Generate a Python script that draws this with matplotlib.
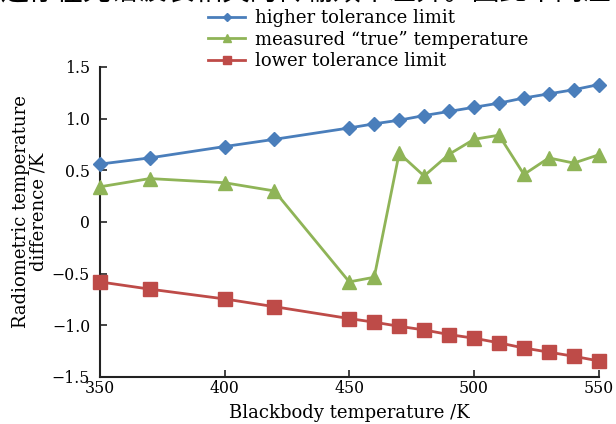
import matplotlib
matplotlib.use("Agg")
import matplotlib.pyplot as plt

plt.rcParams['font.family'] = ['DejaVu Serif']

# blackbody temperature (K)
temps = [350, 370, 400, 420, 450, 460, 470, 480, 490, 500, 510, 520, 530, 540, 550]

# radiometric temperature difference (K)
higher_limit = [0.56, 0.62, 0.73, 0.80, 0.91, 0.95, 0.985, 1.03, 1.07, 1.11,
                1.15, 1.20, 1.24, 1.28, 1.33]
measured = [0.34, 0.42, 0.38, 0.30, -0.58, -0.535, 0.665, 0.445, 0.655, 0.80,
            0.84, 0.46, 0.62, 0.57, 0.65]
lower_limit = [-0.58, -0.65, -0.745, -0.82, -0.935, -0.97, -1.01, -1.045, -1.09,
               -1.125, -1.17, -1.22, -1.26, -1.30, -1.345]

x_ticks = [350, 400, 450, 500, 550]
y_ticks = [1.5, 1.0, 0.5, 0, -0.5, -1.0, -1.5]
y_tick_labels = ['1.5', '1.0', '0.5', '0', '\u22120.5', '\u22121.0', '\u22121.5']

fig = plt.figure(figsize=(6.16, 4.24), dpi=100)
ax = fig.add_axes([0.162, 0.111, 0.81, 0.731])

ax.plot(temps, higher_limit, '-D', color='#4a7ebb', lw=2, ms=7,
        label='higher tolerance limit', clip_on=False, zorder=3)
ax.plot(temps, measured, '-^', color='#8fb457', lw=2, ms=10,
        label='measured \u201ctrue\u201d temperature', clip_on=False, zorder=3)
ax.plot(temps, lower_limit, '-s', color='#be4b48', lw=2, ms=10,
        label='lower tolerance limit', clip_on=False, zorder=3)

ax.set_xlim(350, 550)
ax.set_ylim(-1.5, 1.5)
ax.set_xticks(x_ticks)
ax.set_yticks(y_ticks)
ax.set_yticklabels(y_tick_labels)
ax.tick_params(direction='in', labelsize=11.3, length=5, width=1.2, color='#222222')
ax.tick_params(axis='x', pad=2)
ax.tick_params(axis='y', pad=7)
ax.spines['top'].set_visible(False)
ax.spines['right'].set_visible(False)
for s in ['left', 'bottom']:
    ax.spines[s].set_linewidth(1.5)
    ax.spines[s].set_color('#222222')

ax.set_xlabel('Blackbody temperature /K', fontsize=13, labelpad=5)
ax.set_ylabel('Radiometric temperature\ndifference /K', fontsize=13,
              linespacing=1.0)
ax.yaxis.set_label_coords(-0.104, 0.532)

fig.legend(loc='upper left', bbox_to_anchor=(0.338, 0.978), frameon=False,
           fontsize=13, handlelength=2.05, handletextpad=0.55,
           labelspacing=0.19, borderaxespad=0.0, borderpad=0.0,
           markerscale=0.6)

# cropped line of body text at the top of the page
fig.text(0.0, 1.017, '还存在光谱波长相关的传输效率差异。因此不同温',
         fontsize=20, va='center', ha='left',
         family=['Noto Sans CJK SC', 'DejaVu Sans'])

fig.savefig('out.png', dpi=100)
